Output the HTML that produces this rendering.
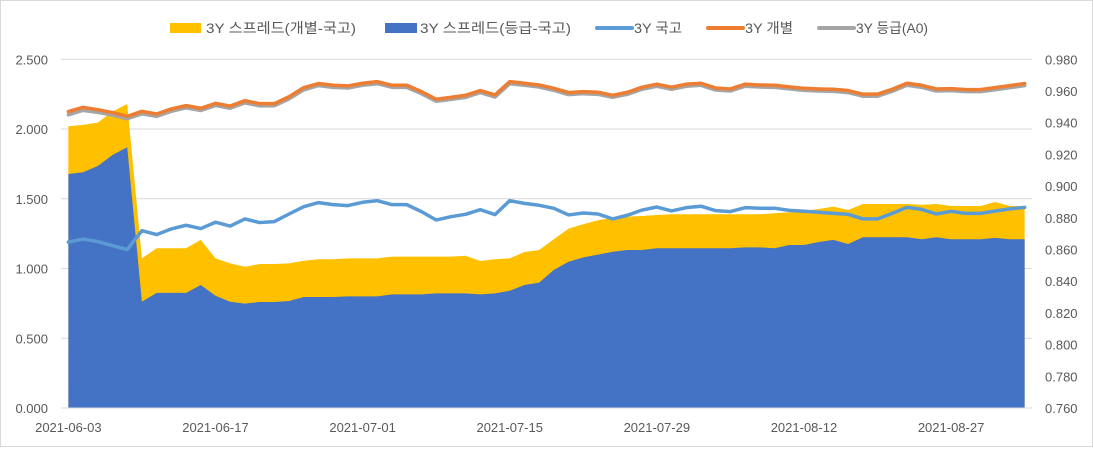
<!DOCTYPE html>
<html><head><meta charset="utf-8"><style>
html,body{margin:0;padding:0;background:#fff;}
svg{display:block;font-family:"Liberation Sans","Noto Sans CJK KR",sans-serif;}
</style></head><body>
<svg id="chart" width="1093" height="452" viewBox="0 0 1093 452" xmlns="http://www.w3.org/2000/svg">
<rect x="0.5" y="0.5" width="1092" height="446" fill="#fff" stroke="#d9d9d9"/>
<g id="grid"></g>
<g id="areas"></g>
<g id="lines"></g>
<g id="axes"></g>
<g id="legend">
  <g>
    <rect x="170" y="23" width="31" height="10" fill="#FFC000"/>
    <text x="206" y="33" font-size="14" fill="#595959" textLength="150" lengthAdjust="spacingAndGlyphs">3Y 스프레드(개별-국고)</text>
  </g>
  <g>
    <rect x="385" y="23" width="32" height="10" fill="#4472C4"/>
    <text x="420" y="33" font-size="14" fill="#595959" textLength="151" lengthAdjust="spacingAndGlyphs">3Y 스프레드(등급-국고)</text>
  </g>
  <g>
    <line x1="597" y1="28" x2="632" y2="28" stroke="#5B9BD5" stroke-width="4" stroke-linecap="round"/>
    <text x="634" y="33" font-size="14" fill="#595959" textLength="48" lengthAdjust="spacingAndGlyphs">3Y 국고</text>
  </g>
  <g>
    <line x1="708" y1="28" x2="743" y2="28" stroke="#ED7D31" stroke-width="4" stroke-linecap="round"/>
    <text x="745" y="33" font-size="14" fill="#595959" textLength="48" lengthAdjust="spacingAndGlyphs">3Y 개별</text>
  </g>
  <g>
    <line x1="819" y1="28" x2="854" y2="28" stroke="#A5A5A5" stroke-width="4" stroke-linecap="round"/>
    <text x="856" y="33" font-size="14" fill="#595959" textLength="72" lengthAdjust="spacingAndGlyphs">3Y 등급(A0)</text>
  </g>
</g>
</svg>
<script>
const categoryLabels = ["2021-06-03","2021-06-17","2021-07-01","2021-07-15","2021-07-29","2021-08-12","2021-08-27"];
const labelEvery = 10;
const leftTicks = [0,0.5,1.0,1.5,2.0,2.5];
const rightTicks = [0.76,0.78,0.80,0.82,0.84,0.86,0.88,0.90,0.92,0.94,0.96,0.98];
const spreadIndividual = [2.02,2.03,2.046,2.125,2.18,1.073,1.145,1.145,1.145,1.205,1.073,1.037,1.013,1.032,1.032,1.037,1.056,1.066,1.066,1.073,1.073,1.073,1.085,1.085,1.085,1.085,1.085,1.092,1.054,1.066,1.073,1.118,1.133,1.21,1.286,1.317,1.346,1.362,1.372,1.377,1.384,1.389,1.389,1.389,1.389,1.389,1.389,1.389,1.396,1.403,1.413,1.427,1.444,1.42,1.463,1.463,1.463,1.463,1.456,1.463,1.448,1.448,1.448,1.477,1.448,1.448];
const spreadGrade = [1.678,1.69,1.735,1.814,1.869,0.762,0.825,0.825,0.825,0.882,0.805,0.762,0.748,0.76,0.76,0.767,0.796,0.796,0.796,0.80,0.80,0.80,0.815,0.815,0.815,0.822,0.822,0.822,0.815,0.822,0.841,0.882,0.899,0.99,1.049,1.08,1.10,1.12,1.133,1.133,1.145,1.145,1.145,1.145,1.145,1.145,1.152,1.152,1.145,1.169,1.169,1.19,1.205,1.176,1.224,1.224,1.224,1.224,1.21,1.224,1.21,1.21,1.21,1.22,1.21,1.21];
const treasury = [0.8647,0.8666,0.865,0.8624,0.860,0.8719,0.8694,0.873,0.8753,0.8732,0.8772,0.8748,0.8793,0.877,0.8776,0.8824,0.887,0.8896,0.8883,0.8877,0.8898,0.8908,0.8883,0.8883,0.8839,0.8786,0.8807,0.8822,0.8851,0.882,0.8908,0.8891,0.8879,0.886,0.8818,0.883,0.8824,0.8793,0.8816,0.8849,0.8868,0.8843,0.8864,0.8873,0.8845,0.8839,0.8864,0.886,0.886,0.8847,0.8841,0.8835,0.8828,0.8822,0.8793,0.8793,0.8828,0.8866,0.8853,0.8824,0.8841,0.8828,0.8828,0.8843,0.8856,0.8866];
const individual = [0.947,0.9497,0.9482,0.9464,0.944,0.9472,0.9455,0.9487,0.9508,0.9491,0.9522,0.9505,0.9539,0.952,0.952,0.9564,0.9621,0.9647,0.9636,0.9632,0.9649,0.9659,0.9636,0.9636,0.9596,0.9548,0.956,0.9573,0.9603,0.9575,0.9659,0.9649,0.9638,0.9617,0.959,0.9596,0.9592,0.9573,0.9592,0.9624,0.9643,0.9624,0.9643,0.9649,0.9619,0.9613,0.9643,0.9638,0.9636,0.9626,0.9617,0.9613,0.9611,0.9603,0.958,0.958,0.9611,0.9649,0.9636,0.9613,0.9615,0.9609,0.9609,0.9621,0.9634,0.9647];
const gradeA0 = [0.945,0.9478,0.9465,0.9448,0.9425,0.9456,0.944,0.9472,0.9494,0.9477,0.9508,0.9491,0.9525,0.9506,0.9507,0.955,0.9607,0.9634,0.9623,0.9619,0.9636,0.9646,0.9623,0.9623,0.9583,0.9535,0.9547,0.956,0.959,0.9562,0.9646,0.9636,0.9625,0.9604,0.9577,0.9583,0.9579,0.956,0.9579,0.9611,0.963,0.9611,0.963,0.9636,0.9606,0.96,0.963,0.9625,0.9623,0.9613,0.9604,0.96,0.9598,0.959,0.9567,0.9567,0.9598,0.9636,0.9623,0.96,0.9602,0.9596,0.9596,0.9608,0.9621,0.9634];

const NS = "http://www.w3.org/2000/svg";
const plotL = 61, plotR = 1032, plotT = 59.3, plotB = 408;
const n = spreadGrade.length;
const step = (plotR - plotL) / n;
function xPos(i){ return plotL + step * (i + 0.5); }
function yLeft(v){ return plotB - (v - 0) / (2.5 - 0) * (plotB - plotT); }
function yRight(v){ return plotB - (v - 0.76) / (0.98 - 0.76) * (plotB - plotT); }
function mk(tag, attrs, parent){
  const e = document.createElementNS(NS, tag);
  for (const k in attrs) e.setAttribute(k, attrs[k]);
  parent.appendChild(e);
  return e;
}
const grid = document.getElementById('grid');
leftTicks.forEach(t => {
  const l = mk('line', {x1: plotL, x2: plotR, y1: yLeft(t), y2: yLeft(t), stroke: '#d9d9d9', 'stroke-width': 1}, grid);
  
  
});
const areas = document.getElementById('areas');
function areaPath(vals){
  let d = 'M' + xPos(0) + ',' + plotB;
  vals.forEach((v, i) => { d += ' L' + xPos(i).toFixed(2) + ',' + yLeft(v).toFixed(2); });
  d += ' L' + xPos(vals.length - 1) + ',' + plotB + ' Z';
  return d;
}
const a1 = mk('path', {d: areaPath(spreadIndividual), fill: '#FFC000'}, areas);


const a2 = mk('path', {d: areaPath(spreadGrade), fill: '#4472C4'}, areas);


const lines = document.getElementById('lines');
function linePath(vals){
  return vals.map((v, i) => (i ? 'L' : 'M') + xPos(i).toFixed(2) + ',' + yRight(v).toFixed(2)).join(' ');
}
const l1 = mk('path', {d: linePath(treasury), fill: 'none', stroke: '#5B9BD5', 'stroke-width': 3.5, 'stroke-linejoin': 'round', 'stroke-linecap': 'round'}, lines);


const l3 = mk('path', {d: linePath(gradeA0), fill: 'none', stroke: '#A5A5A5', 'stroke-width': 3.5, 'stroke-linejoin': 'round', 'stroke-linecap': 'round'}, lines);


const l2 = mk('path', {d: linePath(individual), fill: 'none', stroke: '#ED7D31', 'stroke-width': 3.5, 'stroke-linejoin': 'round', 'stroke-linecap': 'round'}, lines);


const axes = document.getElementById('axes');
const ax = mk('line', {x1: plotL, x2: plotR, y1: plotB, y2: plotB, stroke: '#d9d9d9', 'stroke-width': 1}, axes);


leftTicks.forEach(t => {
  const tx = mk('text', {x: 48, y: yLeft(t) + 5, 'text-anchor': 'end', 'font-size': 13, fill: '#595959'}, axes);
  
  
  tx.textContent = t.toFixed(3);
});
rightTicks.forEach(t => {
  const tx = mk('text', {x: 1045, y: yRight(t) + 5, 'font-size': 13, fill: '#595959'}, axes);
  
  
  tx.textContent = t.toFixed(3);
});
categoryLabels.forEach((lab, k) => {
  const tx = mk('text', {x: xPos(k * labelEvery), y: 432, 'text-anchor': 'middle', 'font-size': 13, fill: '#595959'}, axes);
  
  
  tx.textContent = lab;
});
</script>
</body></html>
